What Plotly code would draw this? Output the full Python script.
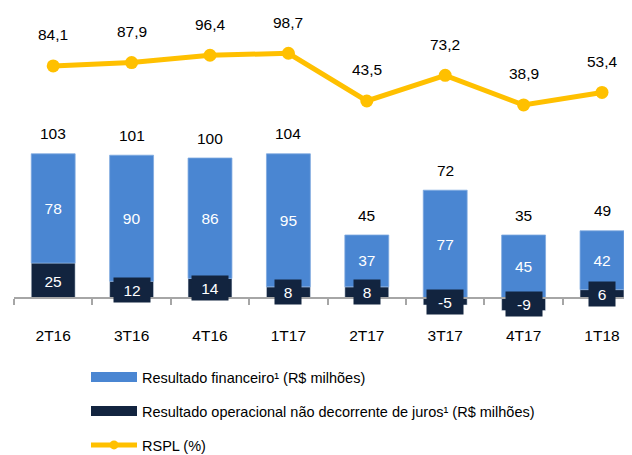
import plotly.graph_objects as go

categories = ["2T16", "3T16", "4T16", "1T17", "2T17", "3T17", "4T17", "1T18"]
financeiro = [78, 90, 86, 95, 37, 77, 45, 42]
operacional = [25, 12, 14, 8, 8, -5, -9, 6]
totais = [103, 101, 100, 104, 45, 72, 35, 49]
rspl = [84.1, 87.9, 96.4, 98.7, 43.5, 73.2, 38.9, 53.4]

name_fin = "Resultado financeiro¹ (R$ milhões)"
name_op = "Resultado operacional não decorrente de juros¹ (R$ milhões)"
name_rspl = "RSPL (%)"

BLUE = "#4A86D2"
NAVY = "#12243F"
YELLOW = "#FFC000"
GRAY = "#A6A6A6"
FONT = "Liberation Sans, Arial, sans-serif"
LBL = 15.5

# the page body adds an 8px offset; layout is expressed in figure pixels
OFF = 8
W, H = 632, 455
ML, MR, MT, MB = 14 - OFF, 0, 0, 125
PW = W - ML - MR
PH = H - MT - MB

fig = go.Figure()

fig.add_trace(go.Bar(
    x=categories, y=operacional, name=name_op, marker_color=NAVY,
    width=0.56, showlegend=False,
))
fig.add_trace(go.Bar(
    x=categories, y=financeiro, name=name_fin, marker_color=BLUE,
    marker_line=dict(color="#7FA9DF", width=0.8),
    width=0.56, showlegend=False,
    text=[str(v) for v in financeiro], textposition="inside",
    insidetextanchor="middle", textangle=0,
    textfont=dict(color="white", size=LBL, family=FONT),
))
fig.add_trace(go.Scatter(
    x=categories, y=rspl, yaxis="y2", name=name_rspl, mode="lines+markers",
    line=dict(color=YELLOW, width=5), marker=dict(color=YELLOW, size=13),
    showlegend=False,
))

# legend-only entries (wide swatches like the original)
fig.add_trace(go.Scatter(x=[None], y=[None], mode="lines", name=name_fin,
                         line=dict(color=BLUE, width=10), legend="legend"))
fig.add_trace(go.Scatter(x=[None], y=[None], mode="lines", name=name_op,
                         line=dict(color=NAVY, width=10), legend="legend2"))
fig.add_trace(go.Scatter(x=[None], y=[None], yaxis="y2", mode="lines+markers", name=name_rspl,
                         line=dict(color=YELLOW, width=5), marker=dict(color=YELLOW, size=9),
                         legend="legend3"))

ann = []
for c, f, o, t in zip(categories, financeiro, operacional, totais):
    ann.append(dict(x=c, y=f + max(o, 0), xref="x", yref="y", text=str(t),
                    showarrow=False, yshift=20,
                    font=dict(size=LBL, color="black", family=FONT)))
    s = str(o)
    ann.append(dict(x=c, y=o / 2, xref="x", yref="y", text=s, showarrow=False,
                    bgcolor=NAVY, width=14 + 10 * len(s), height=22,
                    font=dict(size=LBL, color="white", family=FONT)))
for c, r in zip(categories, rspl):
    ann.append(dict(x=c, y=r, xref="x", yref="y2", text=f"{r:.1f}".replace(".", ","),
                    showarrow=False, yshift=31,
                    font=dict(size=LBL, color="black", family=FONT)))

def py_page(py):
    return (MT + PH - (py - OFF)) / PH

def px_page(px):
    return ((px - OFF) - ML) / PW

# axis scales (page pixels): bars y = 298 - 1.4*v ; line y = 138.6 - 0.8645*v
y1_top = (298 - OFF - MT) / 1.4
y1_bot = (298 - OFF - (MT + PH)) / 1.4
y2_top = (138.6 - OFF - MT) / 0.8645
y2_bot = (138.6 - OFF - (MT + PH)) / 0.8645
x_hi = -0.5 + PW / 78.4

legend_common = dict(orientation="v", xanchor="left", yanchor="middle",
                     bgcolor="rgba(0,0,0,0)", itemwidth=46,
                     font=dict(size=14.5, color="black", family=FONT))

fig.update_layout(
    width=W, height=H,
    margin=dict(l=ML, r=MR, t=MT, b=MB, autoexpand=False),
    paper_bgcolor="white", plot_bgcolor="white",
    barmode="relative",
    font=dict(family=FONT, color="black"),
    xaxis=dict(
        type="category", range=[-0.5, x_hi], anchor="free", position=py_page(298),
        showline=True, linecolor=GRAY, linewidth=1.5, automargin=False,
        ticks="outside", tickson="boundaries", ticklen=6, tickcolor=GRAY, tickwidth=1.5,
        showgrid=False, zeroline=False, ticklabelstandoff=24,
        tickfont=dict(size=LBL, color="black", family=FONT),
    ),
    yaxis=dict(range=[y1_bot, y1_top], visible=False, showgrid=False, zeroline=False,
               automargin=False),
    yaxis2=dict(range=[y2_bot, y2_top], overlaying="y", visible=False,
                showgrid=False, zeroline=False, automargin=False),
    annotations=ann,
    legend=dict(x=px_page(86), y=py_page(377), **legend_common),
    legend2=dict(x=px_page(86), y=py_page(411), **legend_common),
    legend3=dict(x=px_page(86), y=py_page(445), **legend_common),
)

fig.write_html("out.html")
